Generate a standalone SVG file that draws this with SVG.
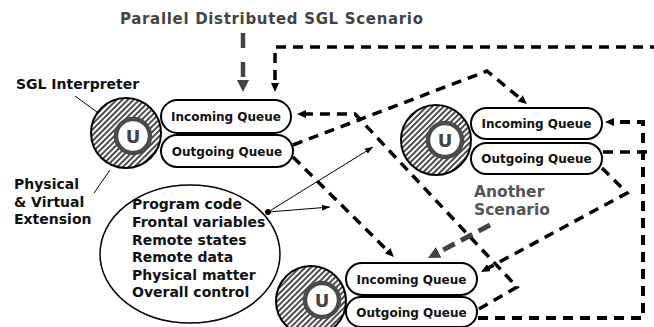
<svg xmlns="http://www.w3.org/2000/svg" width="654" height="327" viewBox="0 0 654 327">
<defs>
<style>
.t{font-family:"DejaVu Sans","Liberation Sans",sans-serif;font-weight:bold;fill:#111}
.q{font-size:12px;text-anchor:middle}
.box{fill:#fff;stroke:#000;stroke-width:2}
.hatch{fill:url(#hp);stroke:#000;stroke-width:2}
.inner{fill:#fff;stroke:#4a4a4a;stroke-width:4.5}
.u{font-family:"DejaVu Sans","Liberation Sans",sans-serif;font-weight:bold;font-size:18px;fill:#444;text-anchor:middle}
.d{fill:none;stroke:#000;stroke-width:3.5;stroke-dasharray:10 7}
.thin{fill:none;stroke:#000;stroke-width:1}
</style>
<pattern id="hp" width="4" height="4" patternUnits="userSpaceOnUse" patternTransform="rotate(45)">
<rect width="4" height="4" fill="#fff"/>
<line x1="1" y1="0" x2="1" y2="4" stroke="#000" stroke-width="1.4"/>
</pattern>
<marker id="ab" viewBox="0 0 9 8" refX="3" refY="4" markerWidth="9" markerHeight="8" markerUnits="userSpaceOnUse" orient="auto">
<path d="M0,0 L9,4 L0,8 z" fill="#000"/>
</marker>
<marker id="ag" viewBox="0 0 12 12" refX="4" refY="6" markerWidth="12" markerHeight="12" markerUnits="userSpaceOnUse" orient="auto">
<path d="M0,0 L12,6 L0,12 z" fill="#444"/>
</marker>
<marker id="at" viewBox="0 0 8 6" refX="8" refY="3" markerWidth="8" markerHeight="6" markerUnits="userSpaceOnUse" orient="auto">
<path d="M0,0 L8,3 L0,6 z" fill="#000"/>
</marker>
</defs>
<rect width="654" height="327" fill="#fff"/>

<text class="t" x="120" y="24" font-size="15" textLength="303" lengthAdjust="spacing" style="fill:#444">Parallel Distributed SGL Scenario</text>

<g id="connectors">
<path d="M243,33 V84" fill="none" stroke="#444" stroke-width="4.5" stroke-dasharray="15 14" marker-end="url(#ag)"/>
<path class="d" d="M660,47 H275 V86" marker-end="url(#ab)"/>
<path class="d" d="M603,152 H660"/>
<path class="d" d="M293,145 L487,71 L522.4,100.2" marker-end="url(#ab)"/>
<path class="d" d="M293,157 L389.7,252.8" marker-end="url(#ab)"/>
<path class="d" d="M479,309 L517,287 L355,114 L303,114" marker-end="url(#ab)"/>
<path class="d" d="M602,168 L627,193 L486.3,269.1" marker-end="url(#ab)"/>
<path class="d" d="M478,318 H643 V122 H611" style="stroke-width:4" marker-end="url(#ab)"/>
<path d="M490,225 L435.1,254.2" fill="none" stroke="#444" stroke-width="5" stroke-dasharray="13 7" marker-end="url(#ag)"/>
<path class="thin" d="M268,212 L330,207" marker-end="url(#at)"/>
<path class="thin" d="M268,212 L373,147" marker-end="url(#at)"/>
<circle cx="268" cy="212" r="3" fill="#000"/>
<path class="thin" d="M75,96 L123,131"/>
<path class="thin" d="M94,193 L110,170"/>
</g>

<g id="node-sgl-label">
<text class="t" x="16" y="89" font-size="14">SGL Interpreter</text>
</g>
<g id="node-extension-label">
<text class="t" x="14" y="189" font-size="14">Physical</text>
<text class="t" x="14" y="206.5" font-size="14">&amp; Virtual</text>
<text class="t" x="14" y="224" font-size="14">Extension</text>
</g>

<g id="node-unit1">
<circle class="hatch" cx="126" cy="133" r="35"/>
<circle class="inner" cx="133" cy="136" r="17"/>
<text class="u" x="133" y="142.5">U</text>
</g>
<g id="node-in1">
<rect class="box" x="161" y="100" width="130" height="33" rx="16.5"/>
<text class="t q" x="226" y="121">Incoming Queue</text>
</g>
<g id="node-out1">
<rect class="box" x="161" y="135" width="132" height="32" rx="16"/>
<text class="t q" x="227" y="155.5">Outgoing Queue</text>
</g>

<g id="node-unit2">
<circle class="hatch" cx="436" cy="140" r="35"/>
<circle class="inner" cx="445" cy="140" r="17"/>
<text class="u" x="445" y="146.5">U</text>
</g>
<g id="node-in2">
<rect class="box" x="471" y="108" width="131" height="31" rx="15.5"/>
<text class="t q" x="536.5" y="128">Incoming Queue</text>
</g>
<g id="node-out2">
<rect class="box" x="471" y="143" width="131" height="31" rx="15.5"/>
<text class="t q" x="536.5" y="163">Outgoing Queue</text>
</g>

<g id="node-unit3">
<circle class="hatch" cx="311" cy="301" r="35"/>
<circle class="inner" cx="322" cy="300" r="17"/>
<text class="u" x="322" y="306.5">U</text>
</g>
<g id="node-in3">
<rect class="box" x="346" y="263" width="131" height="32" rx="16"/>
<text class="t q" x="411.5" y="283.5">Incoming Queue</text>
</g>
<g id="node-out3">
<rect class="box" x="346" y="297" width="131" height="30" rx="15"/>
<text class="t q" x="411.5" y="316.5">Outgoing Queue</text>
</g>

<g id="node-data">
<ellipse cx="190" cy="254" rx="90" ry="69" fill="none" stroke="#000" stroke-width="1.5"/>
<text class="t" x="132" y="209" font-size="14">Program code</text>
<text class="t" x="132" y="227" font-size="14">Frontal variables</text>
<text class="t" x="132" y="244.5" font-size="14">Remote states</text>
<text class="t" x="132" y="262" font-size="14">Remote data</text>
<text class="t" x="132" y="279.5" font-size="14">Physical matter</text>
<text class="t" x="132" y="297" font-size="14">Overall control</text>
</g>

<g id="node-another">
<text class="t" x="474" y="197" font-size="15.5" style="fill:#555">Another</text>
<text class="t" x="474" y="215" font-size="15.5" style="fill:#555">Scenario</text>
</g>
</svg>
